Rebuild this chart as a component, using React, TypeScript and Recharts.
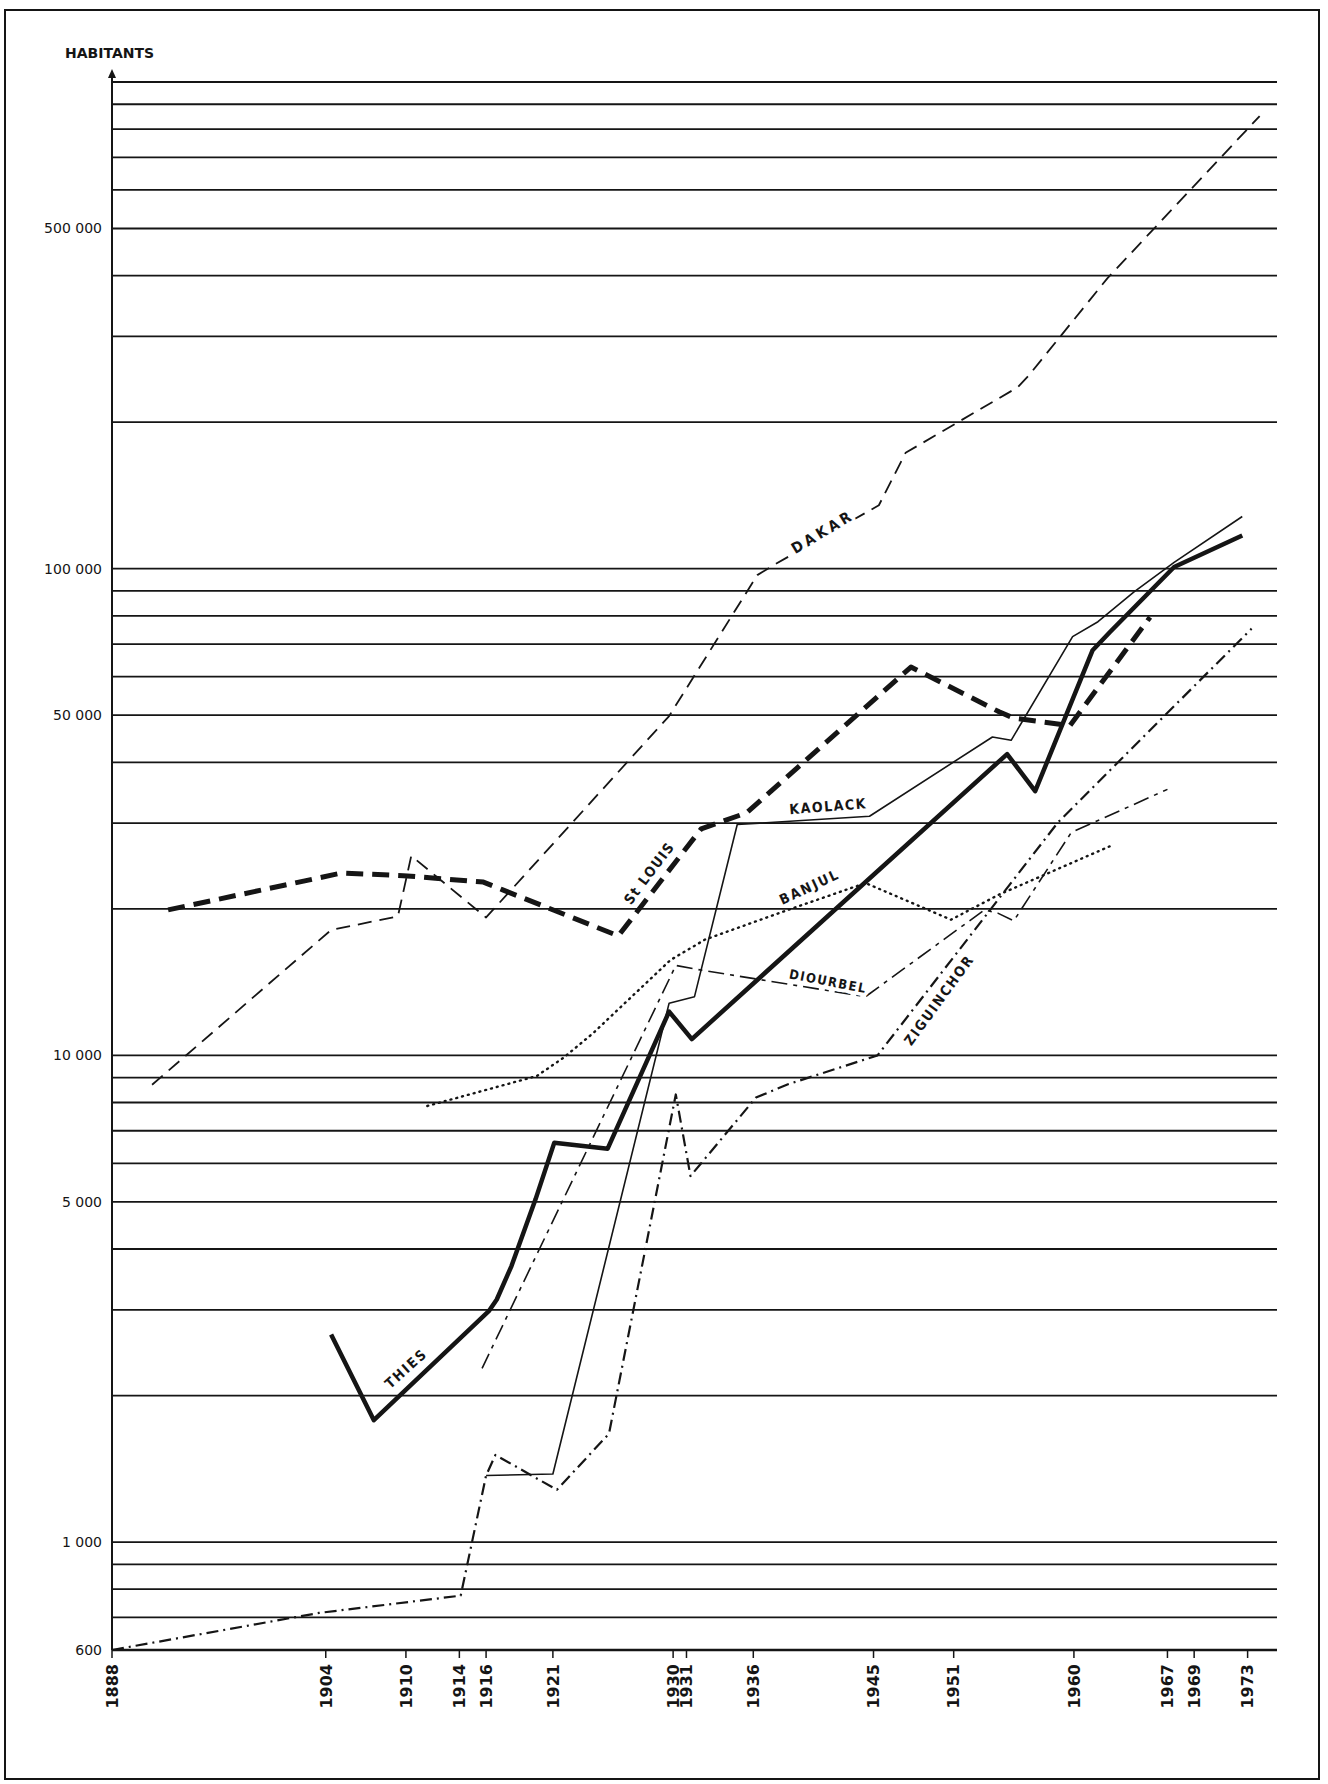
import { LineChart, Line, XAxis, YAxis, CartesianGrid, ReferenceDot } from "recharts";

// census years on the x axis
const yearTicks = [1888, 1904, 1910, 1914, 1916, 1921, 1930, 1931, 1936, 1945, 1951, 1960, 1967, 1969, 1973];

// log paper: labelled values and ruled lines
const popTicks = [600, 1000, 5000, 10000, 50000, 100000, 500000];
const gridValues = [
  700, 800, 900, 1000, 2000, 3000, 4000, 5000, 6000, 7000, 8000, 9000,
  10000, 20000, 30000, 40000, 50000, 60000, 70000, 80000, 90000,
  100000, 200000, 300000, 400000, 500000, 600000, 700000, 800000, 900000, 1000000,
];

// one pair of arrays per town
const dakarYears = [1891, 1904.4, 1909.4, 1910.4, 1916, 1929.7, 1936.3, 1937.6, 1945.4, 1947.4, 1955.8, 1956.6, 1962.5, 1973.9];
const dakarPop = [8700, 18100, 19300, 25700, 19200, 49800, 97000, 102000, 135000, 173000, 236000, 249000, 395000, 851000];

const stLouisYears = [1892.2, 1905.2, 1909.8, 1915.8, 1917.2, 1925.9, 1932.1, 1935.5, 1947.8, 1954.4, 1955.5, 1959.7, 1965.7];
const stLouisPop = [19900, 23700, 23400, 22700, 21900, 17600, 29200, 31500, 62800, 50800, 49300, 47600, 79500];

const kaolackYears = [1916, 1921, 1929.7, 1931.6, 1934.8, 1944.7, 1953.9, 1955.3, 1959.9, 1961.8, 1964.5, 1967.5, 1972.6];
const kaolackPop = [1370, 1380, 12800, 13200, 29800, 31000, 45100, 44400, 72500, 77800, 89600, 103000, 128000];

const thiesYears = [1904.4, 1907.6, 1916.2, 1916.8, 1917.9, 1919.7, 1921.1, 1925.1, 1929.7, 1931.4, 1955.0, 1957.1, 1961.4, 1962.7, 1967.5, 1972.6];
const thiesPop = [2670, 1780, 2980, 3150, 3690, 5060, 6610, 6430, 12300, 10800, 41600, 34900, 68000, 74100, 100800, 117000];

const banjulYears = [1911.6, 1919.8, 1921.8, 1924, 1929.8, 1932.4, 1938.6, 1944.4, 1950.8, 1954.4, 1962.7];
const banjulPop = [7870, 9070, 9890, 11100, 15700, 17300, 19900, 22600, 19000, 21400, 26900];

const diourbelYears = [1915.7, 1930.2, 1931.9, 1944.4, 1953.3, 1954.3, 1955.5, 1959.8, 1967];
const diourbelPop = [2275, 15300, 15000, 13200, 19900, 19600, 18900, 28700, 35200];

const zigYears = [1888, 1903.5, 1914.1, 1916, 1916.7, 1921.3, 1925.2, 1930.2, 1931.3, 1936.2, 1938.6, 1945.3, 1958.8, 1973.3];
const zigPop = [600, 715, 776, 1370, 1510, 1280, 1670, 8310, 5650, 8190, 8720, 10000, 30100, 75300];

const zip = (ys: number[], ps: number[]) => ys.map((year, i) => ({ year, pop: ps[i] }));

const INK = "#151515";

const series = [
  { name: "Dakar", data: zip(dakarYears, dakarPop), width: 1.8, dash: "14 8" },
  { name: "St Louis", data: zip(stLouisYears, stLouisPop), width: 5, dash: "17 9" },
  { name: "Kaolack", data: zip(kaolackYears, kaolackPop), width: 1.6, dash: undefined },
  { name: "Thies", data: zip(thiesYears, thiesPop), width: 4.5, dash: undefined },
  { name: "Banjul", data: zip(banjulYears, banjulPop), width: 2.4, dash: "1 5" },
  { name: "Diourbel", data: zip(diourbelYears, diourbelPop), width: 1.6, dash: "16 6 4 6" },
  { name: "Ziguinchor", data: zip(zigYears, zigPop), width: 2.2, dash: "12 5 2 5" },
];

// town names written along the curves (anchor in data units)
const labels = [
  { text: "DAKAR", year: 1941.2, pop: 119000, tilt: -31, size: 15, spacing: 3.5 },
  { text: "St LOUIS", year: 1928.2, pop: 23700, tilt: -53, size: 14, spacing: 1.5 },
  { text: "KAOLACK", year: 1941.6, pop: 32500, tilt: -4.5, size: 14, spacing: 1.5 },
  { text: "BANJUL", year: 1940.2, pop: 22200, tilt: -25, size: 14, spacing: 2 },
  { text: "DIOURBEL", year: 1941.6, pop: 14200, tilt: 11, size: 13, spacing: 1.5 },
  { text: "ZIGUINCHOR", year: 1949.9, pop: 13000, tilt: -54, size: 14, spacing: 1.8 },
  { text: "THIES", year: 1910.0, pop: 2275, tilt: -42, size: 14, spacing: 2 },
];

const fmt = (v: number) => String(v).replace(/\B(?=(\d{3})+(?!\d))/g, " ");

function YearTick(props: any) {
  const { x, y, payload } = props;
  return (
    <g transform={`translate(${x},${y})`}>
      <text
        transform="rotate(-90)"
        dy="0.36em"
        textAnchor="end"
        fontFamily="DejaVu Sans"
        fontWeight="bold"
        fontSize={16}
        fill={INK}
      >
        {payload.value}
      </text>
    </g>
  );
}

function AxisHead(props: any) {
  const { viewBox } = props;
  if (!viewBox) return null;
  const ax = viewBox.x + viewBox.width;
  const top = viewBox.y;
  return (
    <g>
      <line x1={ax} y1={top} x2={ax} y2={top - 8} stroke={INK} strokeWidth={2} />
      <path d={`M${ax - 4},${top - 4} L${ax},${top - 13} L${ax + 4},${top - 4} Z`} fill={INK} />
      <text x={ax - 47} y={top - 24} fontFamily="DejaVu Sans" fontWeight="bold" fontSize={14} fill={INK}>
        HABITANTS
      </text>
    </g>
  );
}

// the curve is broken where its name is written, so the text gets a white halo
function CurveLabel(props: any) {
  const { viewBox, text, tilt, size, spacing } = props;
  if (!viewBox) return null;
  const cx = viewBox.x + (viewBox.width || 0) / 2;
  const cy = viewBox.y + (viewBox.height || 0) / 2;
  return (
    <g transform={`translate(${cx},${cy}) rotate(${tilt})`}>
      <text
        x={0}
        y={0}
        textAnchor="middle"
        dominantBaseline="central"
        fontFamily="DejaVu Sans Condensed, DejaVu Sans"
        fontWeight="bold"
        fontSize={size}
        letterSpacing={spacing}
        fill={INK}
        stroke="#fff"
        strokeWidth={7}
        strokeLinejoin="round"
        paintOrder="stroke"
      >
        {text}
      </text>
    </g>
  );
}

export default function App() {
  return (
    <div>
      <div
        style={{
          position: "absolute",
          left: 4,
          top: 9,
          width: 1316,
          height: 1771,
          border: `2.5px solid ${INK}`,
          boxSizing: "border-box",
        }}
      />
      <div style={{ position: "absolute", left: 0, top: 0 }}>
        <LineChart width={1328} height={1784} margin={{ top: 82, right: 51, bottom: 74, left: 0 }}>
          <CartesianGrid
            horizontal
            vertical={false}
            horizontalValues={gridValues}
            stroke={INK}
            strokeWidth={1.8}
          />
          <XAxis
            dataKey="year"
            type="number"
            domain={[1888, 1975.2]}
            allowDataOverflow
            ticks={yearTicks}
            interval={0}
            height={60}
            tickSize={8}
            tickMargin={6}
            tick={<YearTick />}
            axisLine={{ stroke: INK, strokeWidth: 2.5 }}
            tickLine={{ stroke: INK, strokeWidth: 1.5 }}
          />
          <YAxis
            type="number"
            scale="log"
            domain={[600, 1000000]}
            allowDataOverflow
            ticks={popTicks}
            interval={0}
            width={112}
            tickSize={0}
            tickMargin={10}
            tickLine={false}
            tickFormatter={fmt}
            tick={{ fontFamily: "DejaVu Sans", fontSize: 14, fill: INK }}
            axisLine={{ stroke: INK, strokeWidth: 2 }}
            label={<AxisHead />}
          />
          {series.map((s) => (
            <Line
              key={s.name}
              data={s.data}
              dataKey="pop"
              name={s.name}
              type="linear"
              stroke={INK}
              strokeWidth={s.width}
              strokeDasharray={s.dash}
              strokeLinecap={s.dash === "1 5" ? "round" : "butt"}
              strokeLinejoin="round"
              dot={false}
              activeDot={false}
              isAnimationActive={false}
            />
          ))}
          {labels.map((l) => (
            <ReferenceDot
              key={l.text}
              x={l.year}
              y={l.pop}
              r={1}
              fill="none"
              stroke="none"
              ifOverflow="visible"
              label={<CurveLabel text={l.text} tilt={l.tilt} size={l.size} spacing={l.spacing} />}
            />
          ))}
        </LineChart>
      </div>
    </div>
  );
}
